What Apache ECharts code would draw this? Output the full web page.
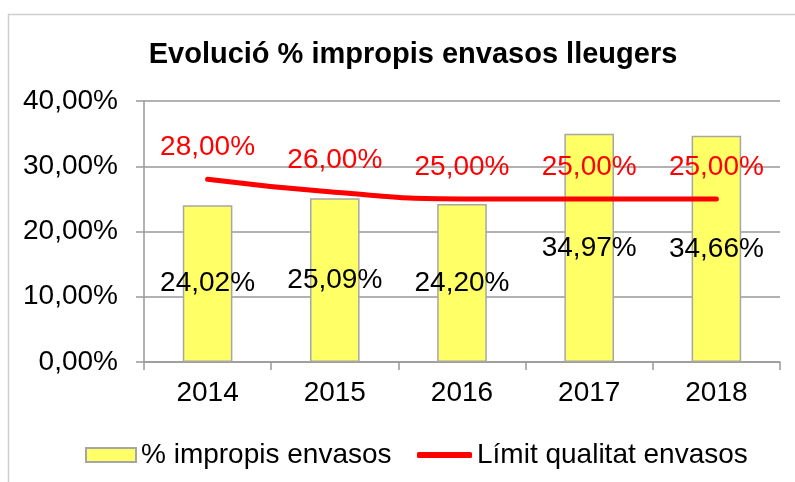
<!DOCTYPE html>
<html><head><meta charset="utf-8">
<script src="https://cdn.jsdelivr.net/npm/echarts@6/dist/echarts.min.js"></script>
<style>html,body{margin:0;padding:0;background:#fff}#c{width:795px;height:482px}</style>
</head><body><div id="c"></div>
<script>
var categories = ['2014','2015','2016','2017','2018'];
var impropis = [24.02, 25.09, 24.20, 34.97, 34.66];
var limit = [28.00, 26.00, 25.00, 25.00, 25.00];
var yTicks = [0, 10, 20, 30, 40];

function pct(v){ return v.toFixed(2).replace('.', ',') + '%'; }
var FONT = '"Liberation Sans", Arial, sans-serif';
var FS = 28;

var chart = echarts.init(document.getElementById('c'));
chart.setOption({
  animation: false,
  textStyle: {fontFamily: FONT},
  graphic: [{type:'rect', shape:{x:8.5,y:14.5,width:900,height:600}, style:{fill:'none', stroke:'#cfcfcf', lineWidth:1.5}, z:-10}],
  title: {text:'Evolució % impropis envasos lleugers', left:408, textAlign:'center', top:35,
    textStyle:{fontFamily:FONT, fontSize:29, fontWeight:'bold', color:'#000'}},
  grid: {left:144, right:15, top:101, bottom:120},
  legend: [
    {left:80, top:436, itemWidth:50, itemHeight:14,
      textStyle:{fontFamily:FONT, fontSize:FS, color:'#000'},
      data:[{name:'% impropis envasos', icon:'rect'}]},
    {left:412, top:436, itemWidth:55, itemHeight:6, itemGap:5,
      textStyle:{fontFamily:FONT, fontSize:FS, color:'#000'},
      data:[{name:'Límit qualitat envasos', icon:'roundRect'}]}
  ],
  xAxis: {type:'category', data:categories,
    axisLine:{lineStyle:{color:'#999', width:1.5}},
    axisTick:{show:true, length:8, lineStyle:{color:'#999', width:1.5}},
    axisLabel:{fontFamily:FONT, fontSize:FS, color:'#000', margin:17}},
  yAxis: {type:'value', min:yTicks[0], max:yTicks[yTicks.length-1], interval:10,
    axisLine:{show:true, lineStyle:{color:'#999', width:1.5}},
    axisTick:{show:true, length:8, lineStyle:{color:'#999', width:1.5}},
    splitLine:{lineStyle:{color:'#999', width:1.5}},
    axisLabel:{fontFamily:FONT, fontSize:FS, color:'#000', margin:26, formatter:function(v){return pct(v);}}},
  series: [
    {name:'% impropis envasos', type:'bar', data:impropis, barWidth:'39%',
      itemStyle:{color:'#ffff66', borderColor:'#a6a6a6', borderWidth:1.5},
      label:{show:true, position:'inside', fontFamily:FONT, fontSize:FS, color:'#000', formatter:function(p){return pct(p.value);}}},
    {name:'Límit qualitat envasos', type:'line', data:limit, smooth:true, symbol:'circle', symbolSize:0.01, showSymbol:true,
      lineStyle:{color:'#ff0000', width:5, cap:'round'}, itemStyle:{color:'#ff0000'},
      labelLayout:{hideOverlap:false},
      label:{show:true, position:'top', distance:18, fontFamily:FONT, fontSize:FS, color:'#ff0000', formatter:function(p){return pct(p.value);}}}
  ]
});
</script></body></html>
